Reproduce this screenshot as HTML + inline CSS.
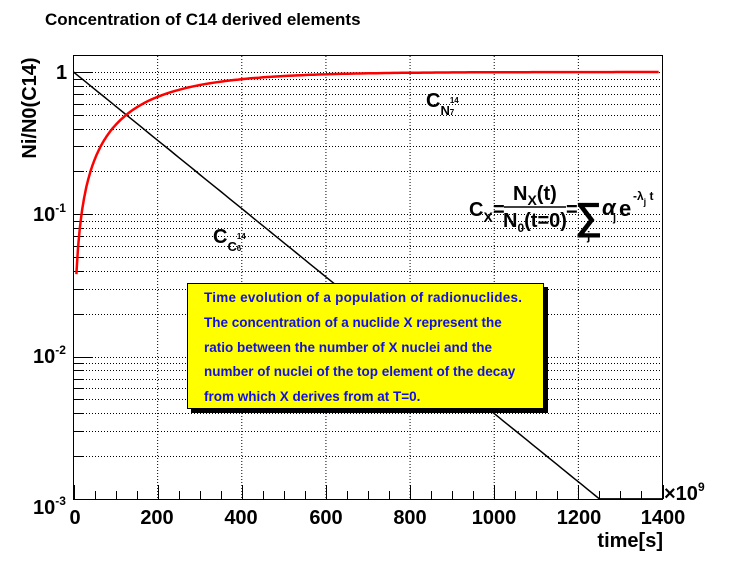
<!DOCTYPE html>
<html><head><meta charset="utf-8"><style>
html,body{margin:0;padding:0;background:#fff;}
svg text{font-family:"Liberation Sans",Arial,sans-serif;font-weight:bold;}
</style></head><body>
<svg id="s" width="737" height="556" viewBox="0 0 737 556" xmlns="http://www.w3.org/2000/svg">
<rect width="737" height="556" fill="#fff"/>
<g id="grid" stroke="#000" stroke-width="1" stroke-dasharray="1,2" fill="none"></g>
<g id="ticks" stroke="#000" stroke-width="1" fill="none"></g>
<path id="black" fill="none" stroke="#000" stroke-width="1.5"/>
<path id="red" fill="none" stroke="#f00" stroke-width="2.5"/>
<rect x="73.5" y="55.5" width="589" height="444" fill="none" stroke="#000" stroke-width="1"/>
<text x="45" y="25" font-size="17">Concentration of C14 derived elements</text>
<text transform="translate(36,108) rotate(-90)" text-anchor="middle" font-size="20">Ni/N0(C14)</text>
<g font-size="20">
<text x="56" y="79">1</text>
<text x="33" y="221">10<tspan dy="-9" font-size="12">-1</tspan></text>
<text x="33" y="363">10<tspan dy="-9" font-size="12">-2</tspan></text>
<text x="33" y="514">10<tspan dy="-9" font-size="12">-3</tspan></text>
</g>
<g font-size="20" text-anchor="middle">
<text x="75" y="524">0</text><text x="157" y="524">200</text><text x="241" y="524">400</text>
<text x="326" y="524">600</text><text x="410" y="524">800</text><text x="494" y="524">1000</text>
<text x="579" y="524">1200</text><text x="663" y="524">1400</text>
</g>
<text x="664" y="500" font-size="20">×10<tspan dy="-9" font-size="12">9</tspan></text>
<text x="663" y="547" font-size="20" text-anchor="end">time[s]</text>
<text x="426" y="107" font-size="20">C<tspan dy="8" font-size="13">N</tspan><tspan dy="-12" font-size="8">14</tspan><tspan dy="12" dx="-9" font-size="8">7</tspan></text>
<text x="213" y="243" font-size="20">C<tspan dy="8" font-size="13">C</tspan><tspan dy="-12" font-size="8">14</tspan><tspan dy="12" dx="-9" font-size="8">6</tspan></text>
<g font-size="20">
<text x="469" y="216">C<tspan dy="6" font-size="14">X</tspan></text>
<text x="493" y="216">=</text>
<text x="513" y="200">N<tspan dy="5" font-size="14">X</tspan><tspan dy="-5">(t)</tspan></text>
<line x1="504" y1="207" x2="566" y2="207" stroke="#000" stroke-width="1.5"/>
<text x="503" y="227">N<tspan dy="5" font-size="12">0</tspan><tspan dy="-5">(t=0)</tspan></text>
<text x="566" y="216">=</text>
<text x="575" y="229" font-size="38" font-weight="normal">∑</text>
<text x="587" y="240" font-size="12">j</text>
<text x="602" y="215" font-size="22" font-weight="normal" font-style="italic">α</text>
<text x="613" y="221" font-size="11">j</text>
<text x="619" y="216" font-size="22">e</text>
<text x="633" y="200" font-size="12">-λ<tspan dy="5" font-size="9">j</tspan><tspan dy="-5"> t</tspan></text>
</g>
<rect x="191" y="287" width="357" height="126" fill="#000"/>
<rect x="187.5" y="283.5" width="356" height="125" fill="#ffff00" stroke="#000" stroke-width="1"/>
<g font-size="13.5" fill="#0f0fe6">
<text x="204" y="302" textLength="318">Time evolution of a population of radionuclides.</text>
<text x="204" y="327">The concentration of a nuclide X represent the</text>
<text x="204" y="352">ratio between the number of X nuclei and the</text>
<text x="204" y="376">number of nuclei of the top element of the decay</text>
<text x="204" y="401">from which X derives from at T=0.</text>
</g>
</svg>
<script>
var X=function(t){return 73.5+t*589/1400;};
var Y=function(v){return 72-142.3*Math.log10(v);};
var g=document.getElementById('grid'),tk=document.getElementById('ticks');
function L(p,x1,y1,x2,y2){var l=document.createElementNS('http://www.w3.org/2000/svg','line');l.setAttribute('x1',x1);l.setAttribute('y1',y1);l.setAttribute('x2',x2);l.setAttribute('y2',y2);p.appendChild(l);}
for(var t=200;t<1400;t+=200){L(g,X(t),56,X(t),499);}
for(var e=-3;e<=0;e++){for(var m=1;m<=9;m++){var v=m*Math.pow(10,e);var y=Math.round(Y(v))+0.5;if(y<56||y>499)continue;if(y<498)L(g,74,y,662,y);L(tk,74,y,74+(m==1?18:9),y);}}
for(var t=0;t<=1400;t+=50){var x=Math.round(X(t))+0.5;L(tk,x,499,x,499-(t%200==0?14:8));}
var lam=3*Math.LN10/1250,d='',r='';
for(var t=0;t<=1400;t+=10){var v=Math.max(Math.exp(-lam*t),1e-3);d+=(t?'L':'M')+X(t).toFixed(1)+','+Math.min(Y(v),499).toFixed(1);}
var first=true;for(var t=7;t<=1400;t+=(t<100?2:10)){var v=1-Math.exp(-lam*t);r+=(first?'M':'L')+X(t).toFixed(1)+','+Y(v).toFixed(1);first=false;}
document.getElementById('black').setAttribute('d',d);
document.getElementById('red').setAttribute('d',r);
</script>
</body></html>
